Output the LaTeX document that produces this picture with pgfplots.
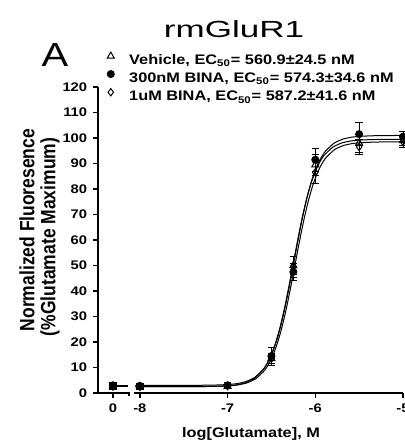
\documentclass[border=0pt]{standalone}
\usepackage{pgfplots}
\pgfplotsset{compat=1.18}
\usepackage{fontspec}
\setmainfont{Liberation Sans}
\newcommand{\sx}[1]{\scalebox{1.18}[1]{#1}}
\begin{document}
\begin{tikzpicture}
\begin{axis}[
  at={(58.8pt,30.6pt)}, anchor=south west,
  scale only axis, width=183pt, height=183.6pt,
  xmin=-8.477, xmax=-5, ymin=0, ymax=120,
  axis x line=bottom, axis y line=left,
  axis line style={-, line width=0.9pt, black},
  x axis line style={draw=none},
  xtick={-8.307,-8,-7,-6,-5},
  xticklabels={\sx{0},\sx{-8},\sx{-7},\sx{-6},\sx{-5}},
  ytick={0,10,...,120},
  yticklabel={\sx{\pgfmathprintnumber{\tick}}},
  /pgf/number format/assume math mode=true,
  tick label style={font=\bfseries\fontsize{7.5}{9}\selectfont},
  tick align=outside, major tick length=3pt,
  tick style={line width=0.8pt, black},
  clip=false,
  legend style={at={(0.0164,1.1153)}, anchor=north west, draw=none, fill=none,
    inner sep=0pt, column sep=6.6pt, row sep=2.2pt,
    nodes={inner sep=0pt, text height=6pt, text depth=1.3pt},
    font=\bfseries\fontsize{8.3}{10}\selectfont},
  legend cell align=left,
  legend image code/.code={\draw[#1] plot coordinates {(0.15cm,0.1cm)}; \path (0,0) (0.3cm,0.1cm);},
]
% broken x axis
\draw[line width=0.9pt] (axis cs:-8.477,0) -- (axis cs:-8.125,0) -- (axis cs:-8.125,-1.3);
\draw[line width=0.9pt] (axis cs:-8.068,0) -- (axis cs:-5,0);

% data points
\addplot[only marks, mark=triangle, mark size=2.4pt, mark options={line width=0.6pt, fill=white}, black,
  error bars/.cd, y dir=both, y explicit, error bar style={line width=0.5pt}, error mark options={rotate=90, mark size=2.2pt, line width=0.5pt}]
  table[x=x, y=y, y error=e] {
x y e
-8.307 2.6 1.0
-8 2.5 0.8
-7 2.6 0.8
-6.5 13.5 2.0
-6.25 50 3.5
-6 89.5 4
-5.5 98 3.5
-5 99 2
};
\addlegendentry{\sx{Vehicle, EC\textsubscript{50}= 560.9±24.5 nM}}
\addplot[only marks, mark=*, mark size=2.1pt, mark options={line width=0.6pt}, black,
  error bars/.cd, y dir=both, y explicit, error bar style={line width=0.5pt}, error mark options={rotate=90, mark size=2.2pt, line width=0.5pt}]
  table[x=x, y=y, y error=e] {
x y e
-8.307 3.0 1.0
-8 2.8 0.8
-7 3.0 1.0
-6.5 14.5 3.5
-6.25 47.5 3.5
-6 91.5 4.5
-5.5 101.5 4.5
-5 100.5 2
};
\addlegendentry{\sx{300nM BINA, EC\textsubscript{50}= 574.3±34.6 nM}}
\addplot[only marks, mark=diamond, mark size=2.2pt, mark options={line width=0.6pt, fill=white}, black,
  error bars/.cd, y dir=both, y explicit, error bar style={line width=0.5pt}, error mark options={rotate=90, mark size=2.2pt, line width=0.5pt}]
  table[x=x, y=y, y error=e] {
x y e
-8.307 2.5 0.8
-8 2.4 0.8
-7 2.7 0.8
-6.5 13.5 2
-6.25 49.5 4
-6 86.5 4.5
-5.5 96.5 3
-5 98.5 2
};
\addlegendentry{\sx{1uM BINA, EC\textsubscript{50}= 587.2±41.6 nM}}

% fitted curves
\addplot[forget plot, black, line width=0.6pt] coordinates {(-8.307,2.5) (-8.14,2.5)};
\addplot[forget plot, black, line width=0.6pt] coordinates {(-8.307,3) (-8.14,3)};
\addplot[forget plot, black, line width=0.6pt, smooth, tension=0.3] coordinates {
(-8.05,2.5) (-7.5,2.51) (-7.2,2.57) (-7,2.82) (-6.9,3.19) (-6.8,3.96) (-6.7,5.57)
(-6.6,8.84) (-6.55,11.50) (-6.5,15.13) (-6.45,19.91) (-6.4,26.01) (-6.35,33.41)
(-6.3,41.90) (-6.25,51.0) (-6.2,60.10) (-6.15,68.59) (-6.1,75.99) (-6.05,82.09)
(-6.0,86.88) (-5.95,90.50) (-5.9,93.16) (-5.8,96.43) (-5.7,98.04) (-5.6,98.81)
(-5.5,99.18) (-5.3,99.43) (-5.0,99.5)};
\addplot[forget plot, black, line width=0.6pt, smooth, tension=0.3] coordinates {
(-8.05,3) (-7.49,3.01) (-7.19,3.07) (-6.99,3.33) (-6.89,3.70) (-6.79,4.48) (-6.69,6.11)
(-6.59,9.41) (-6.54,12.09) (-6.49,15.76) (-6.44,20.59) (-6.39,26.76) (-6.34,34.23)
(-6.29,42.81) (-6.24,52.0) (-6.19,61.19) (-6.14,69.77) (-6.09,77.24) (-6.04,83.41)
(-5.99,88.25) (-5.94,91.91) (-5.89,94.59) (-5.79,97.89) (-5.69,99.52) (-5.59,100.30)
(-5.49,100.67) (-5.29,100.93) (-5.0,101)};
\addplot[forget plot, black, line width=0.6pt, smooth, tension=0.3] coordinates {
(-8.05,2.5) (-7.48,2.51) (-7.18,2.57) (-6.98,2.82) (-6.88,3.18) (-6.78,3.95) (-6.68,5.54)
(-6.58,8.78) (-6.53,11.41) (-6.48,15.0) (-6.43,19.73) (-6.38,25.77) (-6.33,33.10)
(-6.28,41.50) (-6.23,50.5) (-6.18,59.5) (-6.13,67.90) (-6.08,75.23) (-6.03,81.27)
(-5.98,86.01) (-5.93,89.59) (-5.88,92.22) (-5.78,95.46) (-5.68,97.05) (-5.58,97.82)
(-5.48,98.18) (-5.28,98.43) (-5.0,98.5)};
\end{axis}
\begin{scope}[x=0.6pt,y=0.6pt]
\node[anchor=base, font=\fontsize{14}{16}\selectfont] at (234,406) {\scalebox{1.5}[1]{rmGluR1}};
\node[anchor=base, font=\fontsize{20}{22}\selectfont] at (55,377) {\scalebox{1.2}[1]{A}};
\node[rotate=90, font=\bfseries\fontsize{10.5}{12}\selectfont] at (27,214) {\scalebox{1}[1.18]{Normalized Fluoresence}};
\node[rotate=90, font=\bfseries\fontsize{10.5}{12}\selectfont] at (50,207) {\scalebox{1}[1.18]{(\%Glutamate Maximum)}};
\node[anchor=base, font=\bfseries\fontsize{8.3}{10}\selectfont] at (251,7) {\sx{log[Glutamate], M}};
\pgfresetboundingbox
\useasboundingbox (0,0) rectangle (405,444);
\end{scope}
\end{tikzpicture}
\end{document}
